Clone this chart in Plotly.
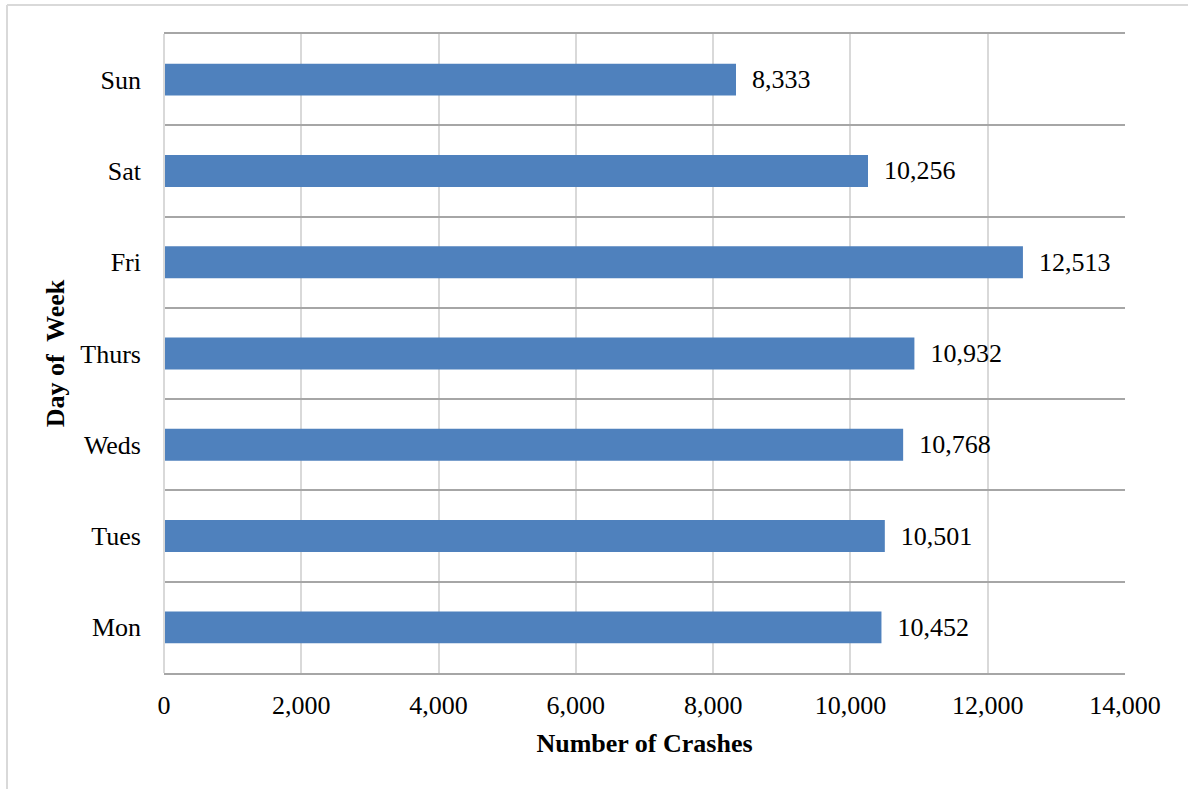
import plotly.graph_objects as go

days = ["Mon", "Tues", "Weds", "Thurs", "Fri", "Sat", "Sun"]
crashes = [10452, 10501, 10768, 10932, 12513, 10256, 8333]
x_ticks = [0, 2000, 4000, 6000, 8000, 10000, 12000, 14000]

FONT = "Liberation Serif, Times New Roman, serif"
FS = 26
W, H = 1188, 789
L, R, T, B = 164, 63, 34, 116
pw, ph = W - L - R, H - T - B

fig = go.Figure(
    go.Bar(
        x=crashes,
        y=days,
        orientation="h",
        width=0.35,
        marker=dict(color="#4f81bd", line=dict(width=0)),
        text=[f"  {v:,}" for v in crashes],
        textposition="outside",
        textfont=dict(family=FONT, size=FS, color="#000000"),
        cliponaxis=False,
    )
)

fig.update_layout(
    width=W,
    height=H,
    margin=dict(l=L, r=R, t=T, b=B, pad=0),
    paper_bgcolor="white",
    plot_bgcolor="white",
    showlegend=False,
    font=dict(family=FONT, size=FS, color="#000000"),
    xaxis=dict(
        range=[0, 14000],
        tickvals=x_ticks,
        ticktext=[f"{v:,}" for v in x_ticks],
        showgrid=True,
        gridcolor="#d9d9d9",
        gridwidth=2,
        zeroline=False,
        showline=True,
        linecolor="#a6a6a6",
        linewidth=2,
        mirror=True,
        ticks="",
        ticklabelstandoff=8,
        tickfont=dict(family=FONT, size=FS),
        title=dict(text="<b>Number of Crashes</b>", font=dict(family=FONT, size=FS), standoff=15),
    ),
    yaxis=dict(
        type="category",
        categoryorder="array",
        categoryarray=days,
        tickson="boundaries",
        showgrid=True,
        gridcolor="#a6a6a6",
        gridwidth=2,
        showline=False,
        ticks="",
        ticklabelstandoff=22,
        tickfont=dict(family=FONT, size=FS),
        title=dict(text="<b>Day of  Week</b>", font=dict(family=FONT, size=FS), standoff=8),
    ),
)

# left axis line of the plot area
fig.add_shape(type="line", xref="paper", yref="paper", x0=0, x1=0, y0=0, y1=1,
              line=dict(color="#d9d9d9", width=2), layer="above")

# outer chart frame (left and top edges)
fig.add_shape(type="line", xref="paper", yref="paper",
              x0=(7 - L) / pw, x1=(7 - L) / pw, y0=-(B + 5) / ph, y1=(ph + T - 5) / ph,
              line=dict(color="#d9d9d9", width=2))
fig.add_shape(type="line", xref="paper", yref="paper",
              x0=(7 - L) / pw, x1=(W - L + 5) / pw, y0=(ph + T - 5) / ph, y1=(ph + T - 5) / ph,
              line=dict(color="#d9d9d9", width=2))

fig.write_html("out.html")
